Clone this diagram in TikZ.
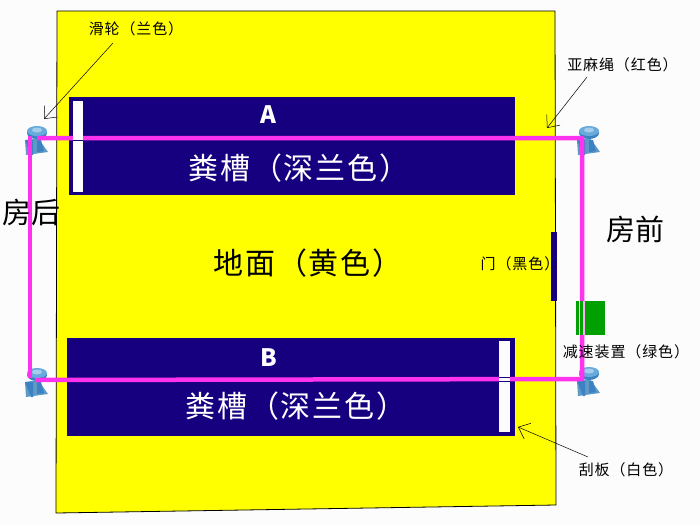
\documentclass[tikz,border=0pt]{standalone}
\usepackage{fontspec}
\setmainfont{Noto Sans CJK SC}
\newfontfamily\widecjk[LetterSpace=6]{Noto Sans CJK SC}
\usetikzlibrary{arrows.meta}
\definecolor{ground}{RGB}{255,255,0}
\definecolor{pit}{RGB}{22,0,128}
\definecolor{rope}{RGB}{255,51,238}
\definecolor{brake}{RGB}{0,160,0}
\definecolor{wheel}{RGB}{105,170,220}
\definecolor{wheeldark}{RGB}{60,130,195}
\definecolor{paper}{RGB}{252,252,252}
\newcommand{\pulley}[1]{%
	\fill[wheel!90!black] (#1) ++(-5,2) -- ++(13,-2) -- ++(10,14) -- ++(-22,3) -- cycle;
	\fill[wheeldark] (#1) ++(-5,2) -- ++(8,0) -- ++(0,15) -- ++(-2,0) -- cycle;
	\fill[wheeldark] (#1) ++(7,2) -- ++(4,0) -- ++(3,11) -- ++(-7,1) -- cycle;
	\fill[wheeldark] (#1) ++(7,-5) ellipse [x radius=10, y radius=6];
	\fill[wheel] (#1) ++(7,-7) ellipse [x radius=10, y radius=5];
	\fill[wheel!60!white] (#1) ++(7,-8) ellipse [x radius=5, y radius=2.5];
}
\begin{document}
\begin{tikzpicture}[x=1pt,y=-1pt,
	smalltext/.style = {font=\fontsize{15}{17}\selectfont\widecjk,inner sep=0pt},
	pittext/.style = {font=\fontsize{30}{32}\selectfont\widecjk,text=white,inner sep=0pt},
	pitletter/.style = {font=\fontsize{24}{26}\selectfont\bfseries,text=white,inner sep=0pt},
	bigtext/.style = {font=\fontsize{29}{32}\selectfont,inner sep=0pt},
	pointer/.style = {-{Straight Barb[length=10pt,width=17pt]},line width=0.5pt}]
	\useasboundingbox (0,0) rectangle (700,525);
	\fill[paper] (0,0) rectangle (700,525);

	% ground and the two pits
	\draw[fill=ground,line width=0.8pt] (57,11) -- (555,11) -- (556,505) -- (56,513) -- cycle;
	\node[fill=pit,minimum width=446pt,minimum height=98pt,inner sep=0pt] (pitA) at (292,146) {};
	\node[fill=pit,minimum width=448pt,minimum height=98pt,inner sep=0pt] (pitB) at (291,387) {};
	\node[fill=pit,minimum width=6pt,minimum height=69pt,inner sep=0pt] (door) at (554,266) {};

	% the rope runs round the four pulleys
	\coordinate (backtop) at (30,136);
	\coordinate (topstart) at (37,138);
	\coordinate (fronttop) at (582,138);
	\coordinate (frontbottom) at (582,379);
	\coordinate (bottomstart) at (35,380);
	\coordinate (backbottom) at (30,378);
	\pulley{30,138}
	\pulley{fronttop}
	\pulley{frontbottom}
	\pulley{30,380}
	\draw[rope,line width=4.5pt,line join=round] (topstart) -- (fronttop) -- (frontbottom) -- (bottomstart);
	\draw[rope,line width=4.5pt] (backtop) -- (backbottom);

	% scrapers and brake
	\node[fill=paper,minimum width=10pt,minimum height=91pt,inner sep=0pt] (scraperA) at (78,146) {};
	\node[fill=paper,minimum width=11pt,minimum height=91pt,inner sep=0pt] (scraperB) at (504.5,386.5) {};
	\draw[pit,line width=0.6pt] (scraperA.west |- 0,140.5) -- (scraperA.east |- 0,140.5);
	\draw[pit,line width=0.6pt] (scraperB.west |- 0,377) -- (scraperB.east |- 0,377);
	\draw[pit,line width=0.6pt] (scraperB.west |- 0,381.5) -- (scraperB.east |- 0,381.5);
	\node[fill=brake,minimum width=29pt,minimum height=34pt,inner sep=0pt] (brake) at (590.5,318) {};
	\draw[paper,line width=1.5pt] (579.5,301) -- (579.5,335);
	\draw[paper!60!rope,line width=1.5pt] (584,301) -- (584,335);

	% labels
	\node[pitletter] (letterA) at (268,115) {A};
	\node[pitletter] (letterB) at (269,358) {B};
	\node[pittext] (nameA) at (299,168) {粪槽（深兰色）};
	\node[pittext] (nameB) at (296,406) {粪槽（深兰色）};
	\node[pittext,text=black] (groundname) at (308,263) {地面（黄色）};
	\node[bigtext] (back) at (31,212) {房后};
	\node[bigtext] (front) at (635,229) {房前};
	\node[smalltext] (wheelname) at (136,29) {滑轮（兰色）};
	\node[smalltext] (ropename) at (622.5,65) {亚麻绳（红色）};
	\node[smalltext] (doorname) at (520,264) {门（黑色）};
	\node[smalltext] (brakename) at (626,352) {减速装置（绿色）};
	\node[smalltext] (scrapername) at (626,470) {刮板（白色）};

	% pointers
	\coordinate (wheeltip) at (44,119);
	\coordinate (ropetip) at (547,128);
	\coordinate (scrapertip) at (518,427);
	\draw[pointer] (113,43) -- (wheeltip);
	\draw[pointer] (587,77) -- (ropetip);
	\draw[pointer] (588,457) -- (scrapertip);
\end{tikzpicture}
\end{document}
